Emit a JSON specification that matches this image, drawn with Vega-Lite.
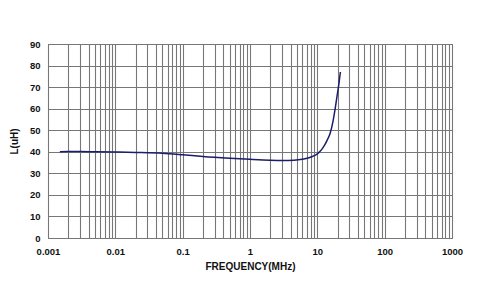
{
  "$schema": "https://vega.github.io/schema/vega-lite/v6.json",
  "autosize": {"type": "none"},
  "width": 404,
  "height": 194,
  "padding": {"left": 48, "top": 44, "right": 25, "bottom": 68},
  "background": "white",
  "config": {
    "view": {"stroke": "#555", "strokeWidth": 1},
    "axis": {"labelFont": "Liberation Sans", "titleFont": "Liberation Sans", "labelFontWeight": "bold", "titleFontWeight": "bold", "labelFontSize": 9.5, "titleFontSize": 10, "labelColor": "#111", "titleColor": "#111", "gridColor": "#777777", "gridOpacity": 1, "gridWidth": 1.1, "ticks": false, "domain": false}
  },
  "data": {"values": [
    {"f": 0.0015, "L": 40.0},
    {"f": 0.002, "L": 40.1},
    {"f": 0.003, "L": 40.1},
    {"f": 0.005, "L": 40.0},
    {"f": 0.01, "L": 39.9},
    {"f": 0.02, "L": 39.7},
    {"f": 0.05, "L": 39.3},
    {"f": 0.1, "L": 38.6},
    {"f": 0.2, "L": 37.8},
    {"f": 0.5, "L": 37.0},
    {"f": 1, "L": 36.5},
    {"f": 2, "L": 36.1},
    {"f": 3, "L": 36.0},
    {"f": 4.5, "L": 36.1},
    {"f": 6, "L": 36.5},
    {"f": 7.5, "L": 37.2},
    {"f": 9, "L": 38.2},
    {"f": 10, "L": 39.0},
    {"f": 11, "L": 40.2},
    {"f": 12, "L": 41.7},
    {"f": 13, "L": 43.4},
    {"f": 14, "L": 45.4},
    {"f": 15.5, "L": 48.6},
    {"f": 17, "L": 53.8},
    {"f": 18.5, "L": 60.5},
    {"f": 20, "L": 67.5},
    {"f": 21, "L": 72.0},
    {"f": 22, "L": 77.0}
  ]},
  "mark": {"type": "line", "color": "#1c1c6b", "strokeWidth": 1.5, "interpolate": "monotone"},
  "encoding": {
    "x": {
      "field": "f", "type": "quantitative",
      "scale": {"type": "log", "domain": [0.001, 1000], "nice": false},
      "axis": {
        "title": "FREQUENCY(MHz)",
        "titlePadding": 6,
        "labelPadding": 8,
        "values": [0.001,0.002,0.003,0.004,0.005,0.006,0.007,0.008,0.009,0.01,0.02,0.03,0.04,0.05,0.06,0.07,0.08,0.09,0.1,0.2,0.3,0.4,0.5,0.6,0.7,0.8,0.9,1,2,3,4,5,6,7,8,9,10,20,30,40,50,60,70,80,90,100,200,300,400,500,600,700,800,900,1000],
        "labelExpr": "abs(log(datum.value)/LN10 - round(log(datum.value)/LN10)) < 1e-6 ? format(datum.value, '~g') : ''",
        "labelOverlap": false,
        "labelFlush": false
      }
    },
    "y": {
      "field": "L", "type": "quantitative",
      "scale": {"domain": [0, 90], "nice": false},
      "axis": {"title": "L(uH)", "values": [0,10,20,30,40,50,60,70,80,90], "labelPadding": 8, "titlePadding": 10}
    }
  }
}
